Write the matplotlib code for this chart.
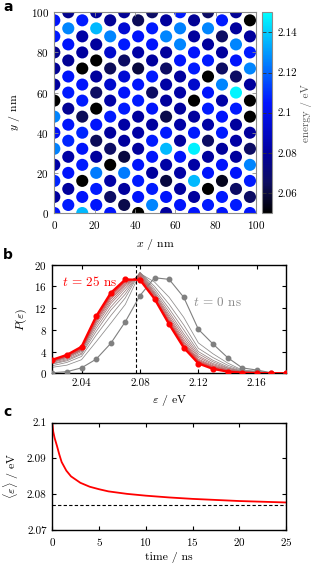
import matplotlib
matplotlib.use("Agg")
import matplotlib.pyplot as plt
from matplotlib.patches import Circle
from matplotlib.collections import PatchCollection
from matplotlib.colors import LinearSegmentedColormap, Normalize

plt.rcParams.update({
    'font.family': 'serif', 'font.serif': ['cmr10'], 'mathtext.fontset': 'cm',
    'axes.formatter.use_mathtext': True, 'axes.unicode_minus': False,
    'font.size': 8,
})

# ---------------- data: panel a (site energies on a hexagonal lattice) ----------------
col_x_nm = [0.0, 6.93, 13.86, 20.78, 27.71, 34.64, 41.57, 48.50, 55.43, 62.35,
            69.28, 76.21, 83.14, 90.07, 97.00]
even_col_y_nm = [0, 8, 16, 24, 32, 40, 48, 56, 64, 72, 80, 88, 96]
odd_col_y_nm = [4, 12, 20, 28, 36, 44, 52, 60, 68, 76, 84, 92, 100]
# energies (eV) per column, bottom to top
site_energy = [
    [2.105, 2.080, 2.108, 2.082, 2.125, 2.102, 2.126, 2.046, 2.080, 2.078, 2.076, 2.106, 2.104],
    [2.106, 2.080, 2.104, 2.082, 2.108, 2.104, 2.078, 2.106, 2.104, 2.078, 2.104, 2.126, 2.076],
    [2.136, 2.104, 2.046, 2.106, 2.104, 2.108, 2.064, 2.106, 2.104, 2.046, 2.080, 2.082, 2.106],
    [2.104, 2.106, 2.124, 2.080, 2.064, 2.104, 2.046, 2.066, 2.080, 2.046, 2.080, 2.136, 2.078],
    [2.104, 2.066, 2.082, 2.046, 2.066, 2.080, 2.106, 2.082, 2.092, 2.064, 2.092, 2.126, 2.078],
    [2.062, 2.080, 2.124, 2.060, 2.080, 2.082, 2.106, 2.104, 2.094, 2.066, 2.106, 2.094, 2.078],
    [2.046, 2.104, 2.106, 2.104, 2.080, 2.082, 2.080, 2.106, 2.104, 2.060, 2.082, 2.104, 2.064],
    [2.126, 2.106, 2.080, 2.104, 2.106, 2.080, 2.104, 2.066, 2.106, 2.080, 2.104, 2.106, 2.066],
    [2.080, 2.104, 2.060, 2.082, 2.136, 2.106, 2.062, 2.080, 2.082, 2.066, 2.080, 2.126, 2.080],
    [2.104, 2.080, 2.082, 2.104, 2.080, 2.082, 2.080, 2.082, 2.080, 2.104, 2.126, 2.125, 2.106],
    [2.104, 2.080, 2.136, 2.082, 2.147, 2.106, 2.080, 2.046, 2.092, 2.106, 2.104, 2.080, 2.078],
    [2.106, 2.046, 2.104, 2.080, 2.066, 2.082, 2.106, 2.104, 2.046, 2.106, 2.080, 2.126, 2.066],
    [2.104, 2.106, 2.055, 2.104, 2.080, 2.106, 2.104, 2.082, 2.126, 2.066, 2.080, 2.066, 2.106],
    [2.106, 2.066, 2.104, 2.080, 2.082, 2.080, 2.106, 2.148, 2.066, 2.104, 2.126, 2.080, 2.078],
    [2.104, 2.066, 2.106, 2.126, 2.066, 2.080, 2.046, 2.046, 2.080, 2.126, 2.106, 2.080, 2.046],
]

# ---------------- data: panel b (energy distribution) ----------------
eps_ev = [2.02, 2.03, 2.04, 2.05, 2.06, 2.07, 2.08, 2.09, 2.10, 2.11, 2.12,
          2.13, 2.14, 2.15, 2.16, 2.17, 2.18]
p_t0 = [0.1, 0.3, 1.0, 2.6, 5.5, 9.5, 14.3, 17.6, 17.3, 14.0, 8.1, 5.4, 2.9, 1.0, 0.6, 0.1, 0.0]
p_t25 = [2.5, 3.4, 4.9, 10.5, 14.8, 17.3, 17.2, 13.7, 9.0, 4.7, 1.8, 0.8, 0.3, 0.1, 0.05, 0.02, 0.0]
p_mid = [
    [1.1, 1.5, 2.5, 5.8, 9.2, 12.7, 18.4, 16.8, 14.0, 10.3, 5.6, 3.6, 1.9, 0.6, 0.4, 0.07, 0.0],
    [1.4, 2.0, 3.1, 7.0, 10.6, 13.9, 18.6, 16.0, 12.7, 8.9, 4.6, 2.9, 1.5, 0.5, 0.3, 0.06, 0.0],
    [1.7, 2.3, 3.5, 7.7, 11.6, 14.6, 18.6, 15.5, 11.9, 8.0, 4.0, 2.4, 1.2, 0.4, 0.24, 0.05, 0.0],
    [1.8, 2.5, 3.7, 8.3, 12.2, 15.2, 18.5, 15.1, 11.3, 7.3, 3.6, 2.1, 1.0, 0.35, 0.2, 0.04, 0.0],
    [2.0, 2.7, 4.0, 8.8, 12.8, 15.7, 18.4, 14.8, 10.8, 6.8, 3.2, 1.8, 0.9, 0.3, 0.17, 0.04, 0.0],
    [2.1, 2.9, 4.2, 9.2, 13.2, 16.1, 18.2, 14.6, 10.4, 6.3, 2.9, 1.6, 0.74, 0.25, 0.14, 0.03, 0.0],
    [2.2, 3.0, 4.3, 9.5, 13.6, 16.4, 18.0, 14.4, 10.1, 5.9, 2.6, 1.4, 0.64, 0.22, 0.12, 0.03, 0.0],
    [2.25, 3.1, 4.4, 9.7, 13.9, 16.6, 17.9, 14.2, 9.8, 5.6, 2.4, 1.26, 0.56, 0.19, 0.1, 0.03, 0.0],
    [2.33, 3.18, 4.53, 9.95, 14.15, 16.85, 17.7, 14.0, 9.58, 5.35, 2.24, 1.12, 0.48, 0.16, 0.09, 0.03, 0.0],
    [2.38, 3.25, 4.61, 10.1, 14.34, 17.0, 17.6, 13.9, 9.42, 5.17, 2.12, 1.03, 0.43, 0.15, 0.08, 0.02, 0.0],
    [2.43, 3.31, 4.69, 10.26, 14.52, 17.1, 17.45, 13.8, 9.25, 4.98, 1.99, 0.94, 0.38, 0.13, 0.07, 0.02, 0.0],
    [2.46, 3.35, 4.8, 10.38, 14.66, 17.2, 17.3, 13.75, 9.12, 4.84, 1.89, 0.87, 0.34, 0.11, 0.06, 0.02, 0.0],
]
eq_energy_ev = 2.0774

# ---------------- data: panel c (mean energy vs time) ----------------
time_ns = [0, 0.1, 0.25, 0.5, 0.75, 1, 1.5, 2, 3, 4, 5, 6, 8, 10, 12.5, 15, 17.5, 20, 22.5, 25]
mean_energy_ev = [2.1, 2.0975, 2.0957, 2.0935, 2.0911, 2.0890, 2.0866, 2.0850, 2.0832,
                  2.0821, 2.0814, 2.0808, 2.0801, 2.0796, 2.0791, 2.0787, 2.0784,
                  2.0781, 2.0779, 2.0777]

# ---------------- figure ----------------
W, H = 314, 566
fig = plt.figure(figsize=(W / 100, H / 100), dpi=100)

def box(l, t, r, b):
    return [l / W, 1 - b / H, (r - l) / W, (b - t) / H]

# colormap black -> navy -> blue -> cyan
cmap = LinearSegmentedColormap.from_list('energy', [
    (0.0, (0.0, 0.0, 0.0)),
    (0.15, (0.05, 0.05, 0.38)),
    (0.30, (0.0, 0.0, 0.62)),
    (0.55, (0.0, 0.08, 1.0)),
    (0.75, (0.0, 0.5, 1.0)),
    (1.0, (0.0, 1.0, 1.0)),
])
cmap.set_under('black')
cmap.set_over('cyan')
norm = Normalize(vmin=2.05, vmax=2.15)

frame_gray = '0.55'

# ---- panel a ----
axa = fig.add_axes(box(54.3, 12.3, 256.0, 213.0))
patches, vals = [], []
for k, x in enumerate(col_x_nm):
    ys = even_col_y_nm if k % 2 == 0 else odd_col_y_nm
    for y, e in zip(ys, site_energy[k]):
        patches.append(Circle((x, y), 3.0))
        vals.append(e)
pc = PatchCollection(patches, cmap=cmap, norm=norm, edgecolor='none')
pc.set_array(vals)
axa.add_collection(pc)
axa.set_xlim(0, 100)
axa.set_ylim(0, 100)
axa.set_xticks([0, 20, 40, 60, 80, 100])
axa.set_yticks([0, 20, 40, 60, 80, 100])
axa.tick_params(direction='in', top=True, right=True, length=3, width=0.6,
                color=frame_gray, labelsize=8, pad=4)
for s in axa.spines.values():
    s.set_color(frame_gray)
    s.set_linewidth(0.8)
axa.set_xlabel(r'$x$ / nm', fontsize=8.5, labelpad=5)
axa.set_ylabel(r'$y$ / nm', fontsize=8.5, labelpad=6)

cax = fig.add_axes(box(262.0, 12.3, 272.0, 213.0))
cb = fig.colorbar(pc, cax=cax)
cb.set_ticks([2.06, 2.08, 2.10, 2.12, 2.14])
cb.set_ticklabels(['2.06', '2.08', '2.1', '2.12', '2.14'])
cb.outline.set_edgecolor(frame_gray)
cb.outline.set_linewidth(0.8)
cax.tick_params(direction='in', left=True, right=True, length=3, width=0.6,
                color='0.2', labelsize=8, pad=4)
fig.text(306.5 / W, 1 - 113 / H, 'energy / eV', fontsize=8, color='0.35',
         rotation=90, ha='center', va='center')

# ---- panel b ----
axb = fig.add_axes(box(52.3, 264.7, 286.0, 373.3))
n = len(p_mid)
for i, curve in enumerate(p_mid):
    f = ((i + 1) / (n + 1)) ** 1.8
    col = (0.55 + 0.45 * f, 0.55 * (1 - f), 0.55 * (1 - f))
    axb.plot(eps_ev, curve, color=col, lw=0.55, zorder=2)
axb.plot(eps_ev, p_t0, color='0.5', lw=0.8, marker='o', ms=3.2, zorder=3)
axb.plot(eps_ev, p_t25, color='red', lw=1.6, marker='o', ms=3.4, zorder=4)
axb.axvline(eq_energy_ev, color='black', lw=0.8, ls=(0, (3, 2)), zorder=5)
axb.set_xlim(2.02, 2.18)
axb.set_ylim(0, 20)
axb.set_xticks([2.04, 2.08, 2.12, 2.16])
axb.set_xticklabels(['2.04', '2.08', '2.12', '2.16'])
axb.set_yticks([0, 4, 8, 12, 16, 20])
axb.tick_params(direction='in', top=True, right=True, length=3, width=0.8,
                labelsize=8, pad=4)
for s in axb.spines.values():
    s.set_linewidth(1.0)
axb.set_xlabel(r'$\varepsilon$ / eV', fontsize=8.5, labelpad=3)
axb.set_ylabel(r'$P(\varepsilon)$', fontsize=8.5, labelpad=4)
axb.text(2.0263, 16.8, r'$t$ = 25 ns', color='red', fontsize=9.5, va='center', ha='left')
axb.text(2.1165, 13.1, r'$t$ = 0 ns', color='0.55', fontsize=9.5, va='center', ha='left')

# ---- panel c ----
axc = fig.add_axes(box(52.3, 422.7, 286.0, 530.0))
axc.plot(time_ns, mean_energy_ev, color='red', lw=1.3)
axc.axhline(2.077, color='black', lw=0.8, ls=(0, (3, 2)))
axc.set_xlim(0, 25)
axc.set_ylim(2.07, 2.10)
axc.set_xticks([0, 5, 10, 15, 20, 25])
axc.set_yticks([2.07, 2.08, 2.09, 2.10])
axc.set_yticklabels(['2.07', '2.08', '2.09', '2.1'])
axc.tick_params(direction='in', top=True, right=True, length=3, width=0.8,
                labelsize=8, pad=4)
for s in axc.spines.values():
    s.set_linewidth(1.0)
axc.set_xlabel('time / ns', fontsize=8.5, labelpad=3)
axc.set_ylabel(r'$\langle\varepsilon\rangle$ / eV', fontsize=8.5, labelpad=4)

# panel letters
for lab, y in [('a', 7), ('b', 255), ('c', 412)]:
    fig.text(3 / W, 1 - y / H, lab, fontsize=10, fontweight='bold',
             family='DejaVu Sans', va='center', ha='left')

fig.savefig('out.png', dpi=100)
